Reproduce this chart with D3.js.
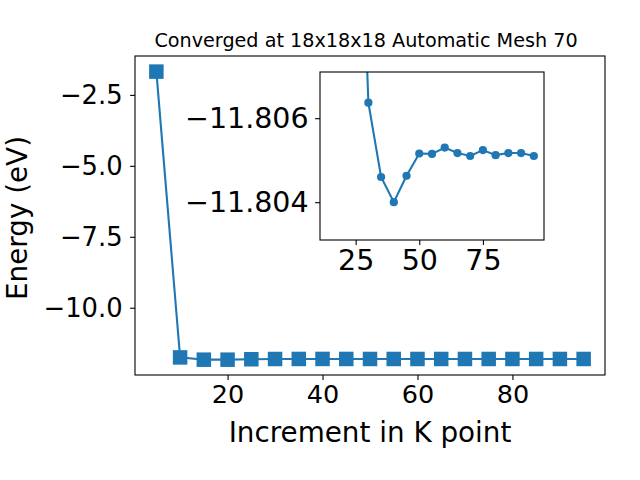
<!DOCTYPE html>
<html>
<head>
<meta charset="utf-8">
<script src="https://cdn.jsdelivr.net/npm/d3@7"></script>
<style>
  html, body { margin: 0; padding: 0; background: #fff; }
  svg { display: block; font-family: "DejaVu Sans", sans-serif; }
</style>
</head>
<body>
<svg id="chart" width="640" height="480"></svg>
<script>
// ---- data ----
const kpoints = [5, 10, 15, 20, 25, 30, 35, 40, 45, 50, 55, 60, 65, 70, 75, 80, 85, 90, 95];
const energy = [-1.68, -11.75, -11.83, -11.83, -11.815, -11.80637, -11.8046, -11.8040, -11.80463,
                -11.80516, -11.80515, -11.80530, -11.80517, -11.80510, -11.80524, -11.80512,
                -11.80517, -11.80517, -11.80510];
const mainXTicks = [20, 40, 60, 80];
const mainYTicks = [-2.5, -5.0, -7.5, -10.0];
const insetXTicks = [25, 50, 75];
const insetYTicks = [-11.806, -11.804];
const titleText = "Converged at 18x18x18 Automatic Mesh 70";
const xLabel = "Increment in K point";
const yLabel = "Energy (eV)";

const data = kpoints.map((k, i) => ({ k, e: energy[i] }));
const color = "#1f77b4";
const FONT = '"DejaVu Sans", sans-serif';
const svg = d3.select("#chart");
const fmt = f => (d => d3.format(f)(d).replace("-", "\u2212"));

function styleAxis(g, size) {
  g.attr("font-family", FONT).attr("font-size", size);
  g.select(".domain").remove();
  g.selectAll(".tick line").attr("stroke", "#000").attr("stroke-width", 1.1);
  g.selectAll(".tick text").attr("fill", "#000")
    .attr("font-family", FONT).attr("font-size", size);
}

// ---- main axes ----
const M = { left: 135, right: 605, top: 56, bottom: 375 };
const x = d3.scaleLinear().domain([0.5, 99.5]).range([M.left, M.right]);
const y = d3.scaleLinear().domain([-12.37, -1.13]).range([M.bottom, M.top]);

const gx = svg.append("g").attr("transform", `translate(0,${M.bottom})`)
  .call(d3.axisBottom(x).tickValues(mainXTicks).tickSize(4.9).tickPadding(4.9).tickFormat(fmt("d")));
const gy = svg.append("g").attr("transform", `translate(${M.left},0)`)
  .call(d3.axisLeft(y).tickValues(mainYTicks).tickSize(4.9).tickPadding(7.5).tickFormat(fmt(".1f")));
styleAxis(gx, 25.5);
styleAxis(gy, 25.8);

svg.append("rect").attr("x", M.left).attr("y", M.top)
  .attr("width", M.right - M.left).attr("height", M.bottom - M.top)
  .attr("fill", "none").attr("stroke", "#000").attr("stroke-width", 1.1);

const line = d3.line().x(d => x(d.k)).y(d => y(d.e));
svg.append("path").datum(data).attr("d", line)
  .attr("fill", "none").attr("stroke", color).attr("stroke-width", 2.1);
const ms = 14.5;
svg.append("g").selectAll("rect").data(data).join("rect")
  .attr("x", d => x(d.k) - ms / 2).attr("y", d => y(d.e) - ms / 2)
  .attr("width", ms).attr("height", ms).attr("fill", color);

svg.append("text").attr("x", 366).attr("y", 47.3).attr("text-anchor", "middle")
  .attr("font-family", FONT).attr("font-size", 19.2).text(titleText);
svg.append("text").attr("x", 370).attr("y", 442).attr("text-anchor", "middle")
  .attr("font-family", FONT).attr("font-size", 27.8).text(xLabel);
svg.append("text").attr("transform", "translate(27,218) rotate(-90)").attr("text-anchor", "middle")
  .attr("font-family", FONT).attr("font-size", 27.8).text(yLabel);

// ---- inset axes ----
const I = { left: 320, right: 544, top: 72, bottom: 240 };
const ix = d3.scaleLinear().domain([11, 99]).range([I.left, I.right]);
const iy = d3.scaleLinear().domain([-11.8071, -11.8031]).range([I.top, I.bottom]);

svg.append("rect").attr("x", I.left).attr("y", I.top)
  .attr("width", I.right - I.left).attr("height", I.bottom - I.top)
  .attr("fill", "#fff");

svg.append("clipPath").attr("id", "insetClip").append("rect")
  .attr("x", I.left).attr("y", I.top).attr("width", I.right - I.left).attr("height", I.bottom - I.top);

const inset = svg.append("g").attr("clip-path", "url(#insetClip)");
const iline = d3.line().x(d => ix(d.k)).y(d => iy(d.e));
const insetData = data.filter(d => d.k >= 15);
inset.append("path").datum(insetData).attr("d", iline)
  .attr("fill", "none").attr("stroke", color).attr("stroke-width", 2.1);
inset.append("g").selectAll("circle").data(insetData).join("circle")
  .attr("cx", d => ix(d.k)).attr("cy", d => iy(d.e)).attr("r", 4.1).attr("fill", color);

const igx = svg.append("g").attr("transform", `translate(0,${I.bottom})`)
  .call(d3.axisBottom(ix).tickValues(insetXTicks).tickSize(4.9).tickPadding(4.9).tickFormat(fmt("d")));
const igy = svg.append("g").attr("transform", `translate(${I.left},0)`)
  .call(d3.axisLeft(iy).tickValues(insetYTicks).tickSize(4.9).tickPadding(6.5).tickFormat(fmt(".3f")));
styleAxis(igx, 28.5);
styleAxis(igy, 28.5);

svg.append("rect").attr("x", I.left).attr("y", I.top)
  .attr("width", I.right - I.left).attr("height", I.bottom - I.top)
  .attr("fill", "none").attr("stroke", "#000").attr("stroke-width", 1.1);
</script>
</body>
</html>
